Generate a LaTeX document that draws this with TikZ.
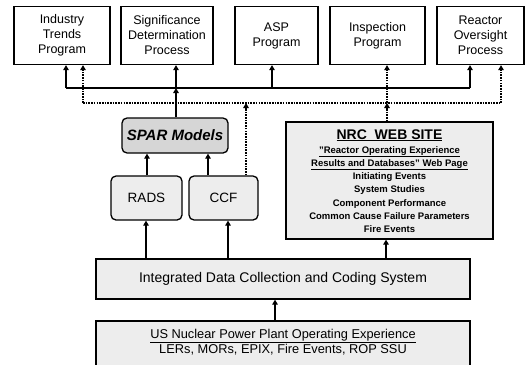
\documentclass[tikz,border=0pt]{standalone}
\usepackage{fontspec}
\setmainfont{Liberation Sans}
\usetikzlibrary{arrows.meta}
\begin{document}
\begin{tikzpicture}[x={(1pt,0)},y={(0,-1pt)},
  box/.style={draw, line width=1.3pt, inner sep=0pt, align=center, fill=white},
  topbox/.style={box, minimum height=58pt, font=\fontsize{12.5}{15}\selectfont},
  shade/.style={fill=black!7},
  conn/.style={line width=1.8pt},
  dotc/.style={line width=2.2pt, dash pattern=on 1.6pt off 1.1pt},
  arr/.style={-{Triangle[length=5pt,width=5.5pt]}},
  txt/.style={inner sep=0pt, anchor=base},
]
\useasboundingbox (0,0) rectangle (526,364);
% top boxes
\node[topbox, minimum width=96pt] (ind) at (62,35.5) {Industry\\Trends\\Program};
\node[topbox, minimum width=92pt] (sig) at (167,35.5) {Significance\\Determination\\Process};
\node[topbox, minimum width=83pt] (asp) at (276.5,35.5) {ASP\\Program};
\node[topbox, minimum width=95pt] (ins) at (377.5,35.5) {Inspection\\Program};
\node[topbox, minimum width=87pt] (rop) at (480.5,35.5) {Reactor\\Oversight\\Process};
% middle
\node[box, rounded corners=5pt, fill=black!16, minimum width=106pt, minimum height=35pt,
      font=\fontsize{15}{17}\selectfont\bfseries\itshape] (spar) at (175,135.5) {SPAR Models};
\node[box, shade, rounded corners=5pt, minimum width=71pt, minimum height=44pt,
      font=\fontsize{13.5}{16}\selectfont] (rads) at (146.5,198) {RADS};
\node[box, shade, rounded corners=5pt, minimum width=69pt, minimum height=44pt,
      font=\fontsize{13.5}{16}\selectfont] (ccf) at (223.5,198) {CCF};
% NRC web site
\node[box, shade, minimum width=207pt, minimum height=117pt] (nrc) at (389.5,180.5) {};
\node[txt, font=\fontsize{14}{16}\selectfont\bfseries] (n1) at (389.5,139) {\underline{NRC\ \ WEB SITE}};
\node[txt, font=\fontsize{9.5}{11}\selectfont\bfseries] (n2) at (389.5,153) {\underline{"Reactor Operating Experience}};
\node[txt, font=\fontsize{9.5}{11}\selectfont\bfseries] (n3) at (389.5,166) {\underline{Results and Databases" Web Page}};
\node[txt, font=\fontsize{9.5}{11}\selectfont\bfseries] (n4) at (389.5,179) {Initiating Events};
\node[txt, font=\fontsize{9.5}{11}\selectfont\bfseries] (n5) at (389.5,192.5) {System Studies};
\node[txt, font=\fontsize{9.5}{11}\selectfont\bfseries] (n6) at (389.5,206) {Component Performance};
\node[txt, font=\fontsize{9.5}{11}\selectfont\bfseries] (n7) at (389.5,219) {Common Cause Failure Parameters};
\node[txt, font=\fontsize{9.5}{11}\selectfont\bfseries] (n8) at (389.5,232.5) {Fire Events};
% bottom
\node[box, shade, minimum width=374pt, minimum height=40pt,
      font=\fontsize{14}{16}\selectfont] (idc) at (283,279) {Integrated Data Collection and Coding System};
\node[box, shade, minimum width=374pt, minimum height=50pt] (usn) at (283,346) {};
\node[txt, font=\fontsize{12.8}{14}\selectfont] (u1) at (283,338) {\underline{US Nuclear Power Plant Operating Experience}};
\node[txt, font=\fontsize{12.8}{14}\selectfont] (u2) at (283,353) {LERs, MORs, EPIX, Fire Events, ROP SSU};
% bus coordinates
\coordinate (sb1) at (66,88);
\coordinate (sb2) at (176,88);
\coordinate (sb3) at (272,88);
\coordinate (sb4) at (470,88);
\coordinate (db1) at (83,103);
\coordinate (db2) at (246,103);
\coordinate (db3) at (387,103);
\coordinate (db4) at (501,103);
% solid bus
\draw[conn] (sb1) -- (sb4);
\draw[conn, arr] (sb1) -- (ind.south -| sb1);
\draw[conn, arr] (sb2) -- (sig.south -| sb2);
\draw[conn, arr] (sb3) -- (asp.south -| sb3);
\draw[conn, arr] (sb4) -- (rop.south -| sb4);
\draw[conn, arr] (spar.north -| sb2) -- (sb2);
% dotted bus
\draw[dotc] (db1) -- (db4);
\draw[dotc, arr] (db1) -- (ind.south -| db1);
\draw[dotc, arr] (db3) -- (ins.south -| db3);
\draw[dotc, arr] (db4) -- (rop.south -| db4);
\draw[dotc, arr] (nrc.north -| db3) -- (db3);
\draw[dotc, arr] (ccf.north -| db2) -- (db2);
% lower connectors
\coordinate (r1) at (147,0);
\coordinate (c1) at (208,0);
\coordinate (r2) at (146,0);
\coordinate (c2) at (228,0);
\coordinate (w2) at (386,0);
\coordinate (u0) at (275,0);
\draw[conn, arr] (rads.north -| r1) -- (spar.south -| r1);
\draw[conn, arr] (ccf.north -| c1) -- (spar.south -| c1);
\draw[conn, arr] (idc.north -| r2) -- (rads.south -| r2);
\draw[conn, arr] (idc.north -| c2) -- (ccf.south -| c2);
\draw[conn, arr] (idc.north -| w2) -- (nrc.south -| w2);
\draw[conn, arr] (usn.north -| u0) -- (idc.south -| u0);
\end{tikzpicture}
\end{document}
